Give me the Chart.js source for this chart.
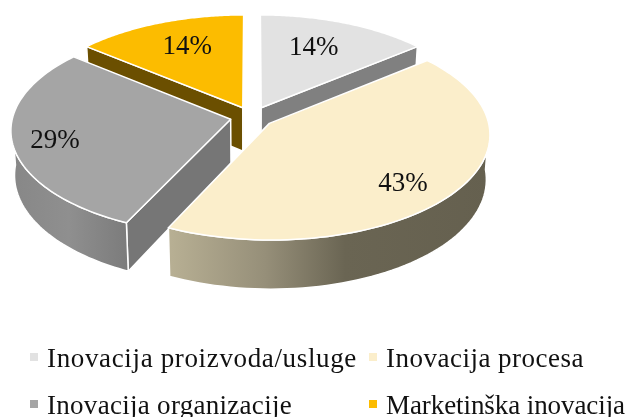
<!DOCTYPE html>
<html><head><meta charset="utf-8">
<style>html,body{margin:0;padding:0;background:#fff}canvas{display:block}</style>
<script src="https://cdn.jsdelivr.net/npm/chart.js@4/dist/chart.umd.min.js"></script>
</head><body><canvas id="c" width="638" height="417"></canvas>
<script>
const categories = ["Inovacija proizvoda/usluge","Inovacija procesa","Inovacija organizacije","Marketinška inovacija"];
const shares = [14,43,29,14];
const topColors = ["#e2e2e2","#fbeecb","#a5a5a5","#fcbc00"];
const radialWallColors = ["#808080","#6f6a58","#767676","#6b4f00"];
const outerWallStops = [
  [[0,"#808080"],[1,"#808080"]],
  [[0,"#b8b094"],[0.3,"#968f79"],[0.55,"#6a6553"],[1,"#65604f"]],
  [[0,"#878787"],[0.5,"#8f8f8f"],[1,"#7c7c7c"]],
  [[0,"#6b4f00"],[1,"#6b4f00"]]
];
const drawOrder = [3,0,2,1];
const labelRadius = [0.62,0.8,0.83,0.62];
const labelNudge = [[-1,-6],[-13,6],[5,2],[-2,-7]];
const legendSlots = [[30,367],[369,367],[30,414],[369,414]];
const legendTextWidths = [310,198,245,239];
const FONT = '"Liberation Serif", serif';
const view = {cx:252, cy:117, A:218, B:103.7, p:0.099, explode:0.1, depth:44, tilt:0.015};

function proj(u,v){const s=1/(1-view.p*v);return {x:view.cx+view.A*u*s,y:view.cy+view.B*v*s,s};}
function drop(pt){return {x:pt.x+(view.cx-pt.x)*view.tilt,y:pt.y+view.depth*pt.s};}
function path(ctx,pts){ctx.beginPath();pts.forEach((q,i)=>i?ctx.lineTo(q.x,q.y):ctx.moveTo(q.x,q.y));ctx.closePath();}

const pie3d = {
  id:'pie3d',
  beforeDatasetDraw(){return false;},
  afterDatasetsDraw(chart){
    const ctx=chart.ctx, arcs=chart.getDatasetMeta(0).data;
    const geo=arcs.map(a=>{
      const {startAngle:st,endAngle:en}=a.getProps(['startAngle','endAngle'],true);
      const mid=(st+en)/2, ou=Math.cos(mid)*view.explode, ov=Math.sin(mid)*view.explode;
      const rim=[],faces=[];
      for(let k=0;k<=80;k++){
        const t=st+(en-st)*k/80;
        rim.push(proj(ou+Math.cos(t),ov+Math.sin(t)));
        faces.push(Math.sin(t)>=0);
      }
      return {mid,ou,ov,apex:proj(ou,ov),rim,faces,inner:proj(ou+Math.cos(mid)*.5,ov+Math.sin(mid)*.5)};
    });
    ctx.save();ctx.lineJoin='round';ctx.strokeStyle='#fff';ctx.lineWidth=1.5;
    drawOrder.forEach(i=>{
      const g=geo[i], apexB=drop(g.apex), rimB=g.rim.map(drop);
      const xs=g.rim.map(q=>q.x);
      const grad=ctx.createLinearGradient(Math.min(...xs),0,Math.max(...xs),0);
      outerWallStops[i].forEach(s=>grad.addColorStop(s[0],s[1]));
      // radial walls that face the viewer: the slice lies above the edge
      [[g.rim[0],rimB[0]],[g.rim[80],rimB[80]]].forEach(e=>{
        const ex=e[0].x-g.apex.x, ey=e[0].y-g.apex.y;
        const side=ex*(g.inner.y-g.apex.y)-ey*(g.inner.x-g.apex.x);
        if(side*ex<0){
          path(ctx,[g.apex,e[0],e[1],apexB]);
          ctx.fillStyle=radialWallColors[i];ctx.fill();ctx.stroke();
        }
      });
      // outer wall: only the part of the rim facing the viewer
      const up=g.rim.filter((q,k)=>g.faces[k]), low=rimB.filter((q,k)=>g.faces[k]);
      if(up.length>1){
        path(ctx,up.concat(low.reverse()));
        ctx.fillStyle=grad;ctx.fill();ctx.stroke();
      }
      // top face
      path(ctx,[g.apex].concat(g.rim));
      ctx.fillStyle=topColors[i];ctx.fill();ctx.stroke();
    });
    // value labels
    ctx.fillStyle='#111';ctx.textAlign='center';ctx.textBaseline='middle';
    ctx.font='27px '+FONT;
    geo.forEach((g,i)=>{
      const q=proj(g.ou+Math.cos(g.mid)*labelRadius[i],g.ov+Math.sin(g.mid)*labelRadius[i]);
      ctx.fillText(shares[i]+'%',q.x+labelNudge[i][0],q.y+labelNudge[i][1]);
    });
    // legend
    ctx.textAlign='left';ctx.textBaseline='alphabetic';
    categories.forEach((name,i)=>{
      const [x,y]=legendSlots[i];
      ctx.fillStyle=topColors[i];ctx.fillRect(x,y-14,8,8);
      ctx.fillStyle='#111';
      ctx.letterSpacing='0px';
      const w=ctx.measureText(name).width;
      ctx.letterSpacing=((legendTextWidths[i]-w)/name.length)+'px';
      ctx.fillText(name,x+17,y);
    });
    ctx.letterSpacing='0px';
    ctx.restore();
  }
};

new Chart(document.getElementById('c'),{
  type:'pie',
  data:{labels:categories,datasets:[{data:shares,backgroundColor:topColors}]},
  options:{responsive:false,animation:false,plugins:{legend:{display:false},tooltip:{enabled:false}}},
  plugins:[pie3d]
});
</script></body></html>
